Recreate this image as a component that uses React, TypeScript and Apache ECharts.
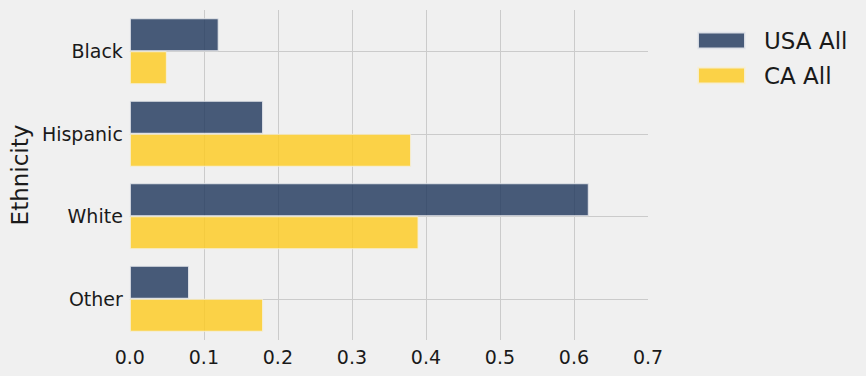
import React, { useEffect, useRef } from "react";
import * as echarts from "echarts";

const categories = ["Black", "Hispanic", "White", "Other"];
const usaAll = [0.12, 0.18, 0.62, 0.08];
const caAll = [0.05, 0.38, 0.39, 0.18];
const xTicks = [0, 0.1, 0.2, 0.3, 0.4, 0.5, 0.6, 0.7];
const seriesNames = ["USA All", "CA All"];

const FONT = "DejaVu Sans";

export default function App() {
  const ref = useRef<HTMLDivElement>(null);
  useEffect(() => {
    document.body.style.margin = "0";
    document.body.style.background = "#f0f0f0";
    if (!ref.current) return;
    const chart = echarts.init(ref.current, undefined, { renderer: "svg" });
    chart.setOption({
      animation: false,
      backgroundColor: "#f0f0f0",
      textStyle: { fontFamily: FONT },
      grid: { left: 129, right: 218, top: 10, bottom: 36, containLabel: false },
      legend: {
        orient: "vertical",
        left: 697,
        top: 29,
        padding: 0,
        itemWidth: 47,
        itemHeight: 16,
        itemGap: 12,
        icon: "rect",
        data: seriesNames,
        textStyle: {
          fontSize: 23,
          color: "#1a1a1a",
          fontFamily: FONT,
          padding: [0, 0, 0, 14],
        },
      },
      xAxis: {
        type: "value",
        min: xTicks[0],
        max: xTicks[xTicks.length - 1],
        interval: 0.1,
        axisLine: { show: false },
        axisTick: { show: false },
        axisLabel: {
          fontSize: 19,
          color: "#1a1a1a",
          margin: 7,
          fontFamily: FONT,
          formatter: (v: number) => v.toFixed(1),
        },
        splitLine: {
          show: true,
          showMinLine: false,
          showMaxLine: false,
          lineStyle: { color: "#cbcbcb", width: 1 },
        },
      },
      yAxis: {
        type: "category",
        data: categories,
        inverse: true,
        name: "Ethnicity",
        nameLocation: "middle",
        nameGap: 90,
        nameTextStyle: { fontSize: 23, color: "#1a1a1a", fontFamily: FONT },
        axisLine: { show: false },
        axisTick: { show: false },
        axisLabel: { fontSize: 19, color: "#1a1a1a", margin: 7, fontFamily: FONT },
        splitLine: {
          show: true,
          alignWithLabel: true,
          lineStyle: { color: "#cbcbcb", width: 1 },
        },
      },
      series: [
        {
          name: seriesNames[0],
          type: "bar",
          data: usaAll,
          barWidth: "40%",
          barGap: "0%",
          itemStyle: {
            color: "rgba(29,53,90,0.8)",
            borderColor: "rgba(230,232,236,0.9)",
            borderWidth: 1,
          },
        },
        {
          name: seriesNames[1],
          type: "bar",
          data: caAll,
          barWidth: "40%",
          barGap: "0%",
          itemStyle: {
            color: "rgba(254,202,29,0.8)",
            borderColor: "rgba(245,240,220,0.9)",
            borderWidth: 1,
          },
        },
      ],
    });
    return () => chart.dispose();
  }, []);
  return <div ref={ref} style={{ width: 866, height: 376 }} />;
}
